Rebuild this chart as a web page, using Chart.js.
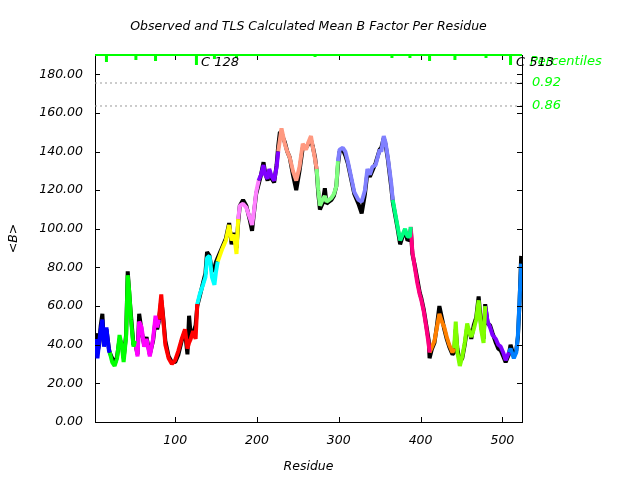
<!DOCTYPE html>
<html>
<head>
<meta charset="utf-8">
<script src="https://cdn.jsdelivr.net/npm/chart.js@4.4.0/dist/chart.umd.min.js"></script>
<style>
    html, body { margin: 0; padding: 0; background: #fff; }
</style>
</head>
<body>
<canvas id="chart" width="640" height="480"></canvas>
<script>
"use strict";

// residue numbers sampled along the chain
let residues = [
    3, 5, 7, 9, 11, 13, 16, 19,
    20, 23, 26, 29, 32, 35, 37, 40, 42, 44, 46, 49,
    51, 54, 56, 59, 62, 65, 69, 73, 76, 78,
    80, 83, 85, 88, 92, 96, 100, 104, 108, 112, 115, 117, 119, 122, 125,
    127, 130, 134, 137, 139, 142, 145, 148, 150,
    152, 157, 162, 166, 169, 172, 175,
    177, 179, 183, 187, 191, 194, 196, 199,
    202, 205, 208, 210, 213, 215, 218, 221, 224,
    226, 228, 230, 232, 234, 237, 240, 244, 248, 252, 256, 260, 263, 266, 268, 271,
    273, 275, 277, 280, 283, 285, 288, 291, 294, 297,
    299, 301, 305, 308, 311, 315, 319, 324, 328, 332, 335, 338, 341, 345, 350, 352, 355, 357, 360, 364,
    366, 369, 372, 375, 378, 381, 384, 387,
    388, 390, 393, 396, 399, 401, 404, 407, 410,
    411, 414, 417, 420, 423, 426, 429, 432, 435, 439,
    441, 443, 445, 448, 451, 454, 457, 460, 462, 465, 468, 471, 474, 477,
    479, 482, 485, 488, 492, 495, 498, 501, 504, 506,
    508, 510, 514, 517, 519, 521, 523
];

// TLS calculated mean B
let calculated = [
    43, 33, 41, 48, 53, 39, 49, 37,
    36, 31, 29, 33, 45, 39, 31, 44, 76, 67, 53, 39,
    42, 34, 52, 49, 39, 43, 34, 43, 55, 49,
    53, 66, 55, 40, 33, 30, 32, 37, 43, 48, 38, 41, 43, 47, 43,
    61, 66, 71, 75, 85, 86, 75, 71, 78,
    83, 89, 94, 102, 94, 97, 87,
    105, 112, 113, 111, 106, 102, 108, 119,
    125, 128, 133, 128, 126, 131, 127, 125, 132,
    140, 146, 152, 148, 144, 140, 137, 130, 125, 132, 144, 141, 145, 148, 143, 136,
    131, 120, 112, 115, 117, 114, 115, 116, 118, 122,
    135, 141, 142, 140, 135, 127, 119, 115, 114, 120, 131, 128, 132, 133, 141, 140, 148, 145, 137, 124,
    115, 108, 101, 94, 97, 100, 96, 96,
    101, 88, 80, 72, 66, 63, 57, 49, 40,
    36, 39, 42, 49, 56, 52, 49, 44, 40, 36,
    38, 52, 36, 29, 34, 41, 51, 46, 44, 48, 53, 63, 48, 41,
    60, 52, 49, 45, 43, 40, 39, 36, 32, 34,
    36, 38, 33, 36, 45, 63, 82
];

// observed mean B
let observed = [
    46, 36, 40, 50, 56, 40, 48, 38,
    36, 33, 30, 34, 43, 40, 33, 45, 78, 66, 55, 40,
    41, 35, 56, 47, 40, 44, 35, 42, 53, 48,
    52, 63, 56, 42, 34, 31, 31, 35, 42, 47, 35, 55, 45, 46, 50,
    60, 65, 72, 77, 88, 86, 78, 80, 83,
    85, 90, 95, 103, 92, 98, 90,
    103, 112, 115, 112, 105, 99, 107, 118,
    123, 128, 134.5, 129, 125, 130, 126, 124, 133,
    143, 150, 150, 147, 145, 140, 137, 128, 120, 130, 142, 142, 144, 146, 143, 137,
    130, 118, 110, 113, 121, 113, 114, 115, 117, 122,
    133, 140, 141, 138, 134, 126, 118, 113, 108, 118, 129, 127, 130, 134, 141, 142, 147, 144, 136, 122,
    114, 107, 100, 92, 96, 99, 94, 95,
    100, 87, 81, 74, 67, 64, 58, 50, 42,
    33, 38, 41, 50, 60, 54, 48, 43, 39, 35,
    36, 48, 38, 31, 33, 40, 49, 47, 43, 50, 54, 65, 50, 43,
    61, 51, 50, 46, 41, 38, 37, 34, 31, 33,
    35, 40, 34, 37, 44, 62, 86
];

// TLS groups: first residue of each group and its colour
let groupStarts = [3, 20, 51, 80, 127, 152, 177, 202, 226, 273, 299, 366, 388, 411, 441, 479, 508];
let groupColors = ['#0000ff', '#00ff00', '#ff00ff', '#ff0000', '#00ffff', '#ffff00', '#ff80ff', '#8000ff',
    '#ff9980', '#80ff80', '#8080ff', '#00ff80', '#ff0080', '#ff8000', '#80ff00', '#8000ff', '#0080ff'];

// percentile markers along the top
let markerResidues = [16, 52, 76, 126, 148, 175, 271, 365, 387, 411, 442, 480, 510];
let markerDepths = [3.6, 2.6, 3.1, 5.2, 2.1, 1.6, 1, 1.6, 1.6, 3.1, 2.6, 1.6, 5.2];

let percentileValues = [175.5, 163.6];
let percentileLabels = ['0.92', '0.86'];

let chainLabels = ['C 128', 'C 513'];
let chainResidues = [128, 513];

let titleText = 'Observed and TLS Calculated Mean B Factor Per Residue';

let xMin = 2, xMax = 524, yMin = 0, yMax = 190;

const FONT = 'DejaVu Sans';

function buildDatasets() {
    let sets = [];
    let obsPts = residues.map((r, i) => ({x: r, y: observed[i]}));
    sets.push({data: obsPts, borderColor: '#000000', borderWidth: 4, order: 3});

    for (let g = 0; g < groupStarts.length; g++) {
        let start = groupStarts[g];
        let end = g + 1 < groupStarts.length ? groupStarts[g + 1] : Infinity;
        let pts = [];
        for (let i = 0; i < residues.length; i++) {
            if (residues[i] >= start && residues[i] < end) pts.push({x: residues[i], y: calculated[i]});
        }
        // join to the next group so the line is continuous
        let next = residues.indexOf(end);
        if (next >= 0) pts.push({x: residues[next], y: calculated[next]});
        sets.push({data: pts, borderColor: groupColors[g], borderWidth: 4, order: 2});
    }

    percentileValues.forEach(v => {
        sets.push({data: [{x: xMin, y: v}, {x: xMax, y: v}], borderColor: '#999999',
            borderWidth: 1, borderDash: [2, 3], order: 4});
    });

    let marks = [];
    markerResidues.forEach((r, i) => {
        marks.push({x: r, y: yMax}, {x: r, y: yMax - markerDepths[i]}, {x: r, y: null});
    });
    sets.push({data: marks, borderColor: '#00ff00', borderWidth: 3, order: 1, spanGaps: false});
    return sets;
}

let framePlugin = {
    id: 'frame',
    afterDatasetsDraw(chart) {
        let ctx = chart.ctx;
        let a = chart.chartArea;
        let x = chart.scales.x, y = chart.scales.y;
        ctx.save();
        ctx.strokeStyle = '#000';
        ctx.lineWidth = 1;
        ctx.beginPath();
        ctx.moveTo(a.right + 0.5, a.top);
        ctx.lineTo(a.right + 0.5, a.bottom);
        x.ticks.forEach(t => {
            let px = Math.round(x.getPixelForValue(t.value)) + 0.5;
            ctx.moveTo(px, a.bottom); ctx.lineTo(px, a.bottom - 5);
            ctx.moveTo(px, a.top); ctx.lineTo(px, a.top + 5);
        });
        y.ticks.forEach(t => {
            let py = Math.round(y.getPixelForValue(t.value)) + 0.5;
            ctx.moveTo(a.left, py); ctx.lineTo(a.left + 5, py);
            ctx.moveTo(a.right, py); ctx.lineTo(a.right - 5, py);
        });
        percentileValues.forEach(v => {
            let py = Math.round(y.getPixelForValue(v)) + 0.5;
            ctx.moveTo(a.right, py); ctx.lineTo(a.right - 5, py);
        });
        ctx.stroke();

        ctx.strokeStyle = '#00ff00';
        ctx.lineWidth = 2;
        ctx.beginPath();
        ctx.moveTo(a.left, a.top);
        ctx.lineTo(a.right, a.top);
        ctx.stroke();

        ctx.textBaseline = 'middle';
        ctx.fillStyle = '#000';
        ctx.textAlign = 'center';
        ctx.font = 'italic 12.5px "' + FONT + '"';
        ctx.fillText(titleText, (a.left + a.right) / 2, 27);

        ctx.font = 'italic 13px "' + FONT + '"';
        ctx.textAlign = 'left';
        ctx.fillStyle = '#00ff00';
        ctx.fillText('Percentiles', a.right + 8, a.top + 7);
        percentileValues.forEach((v, i) => {
            ctx.fillText(percentileLabels[i], a.right + 10, y.getPixelForValue(v));
        });
        ctx.fillStyle = '#000';
        chainLabels.forEach((lbl, i) => {
            ctx.fillText(lbl, x.getPixelForValue(chainResidues[i]) + 3, a.top + 8);
        });
        ctx.restore();
    }
};

function main() {
    let tickFont = {family: FONT, size: 12.5, style: 'italic'};
    new Chart(document.getElementById('chart'), {
        type: 'line',
        data: {datasets: buildDatasets()},
        options: {
            responsive: false,
            animation: false,
            devicePixelRatio: 1,
            layout: {padding: {left: 0, right: 118, top: 55, bottom: 0}},
            elements: {point: {radius: 0}, line: {tension: 0, fill: false, borderJoinStyle: 'bevel'}},
            plugins: {
                legend: {display: false},
                tooltip: {enabled: false},
                title: {display: false}
            },
            scales: {
                x: {
                    type: 'linear',
                    min: xMin,
                    max: xMax,
                    grid: {display: false, drawTicks: false},
                    border: {display: true, color: '#000', width: 1},
                    ticks: {
                        stepSize: 100, includeBounds: false, autoSkip: false, maxRotation: 0,
                        padding: 11, color: '#000', font: tickFont,
                        callback: v => String(v)
                    },
                    title: {display: true, text: 'Residue', color: '#000', font: tickFont, padding: {top: 0, bottom: 6}},
                    afterFit: s => { s.height = 58; }
                },
                y: {
                    type: 'linear',
                    min: yMin,
                    max: yMax,
                    grid: {display: false, drawTicks: false},
                    border: {display: true, color: '#000', width: 1},
                    ticks: {
                        stepSize: 20, includeBounds: false, padding: 12, color: '#000', font: tickFont,
                        callback: v => v.toFixed(2)
                    },
                    title: {display: true, text: '<B>', color: '#000', font: tickFont, padding: {top: 6, bottom: 0}},
                    afterFit: s => { s.width = 95; }
                }
            }
        },
        plugins: [framePlugin]
    });
}

document.addEventListener('DOMContentLoaded', main);
</script>
</body>
</html>
